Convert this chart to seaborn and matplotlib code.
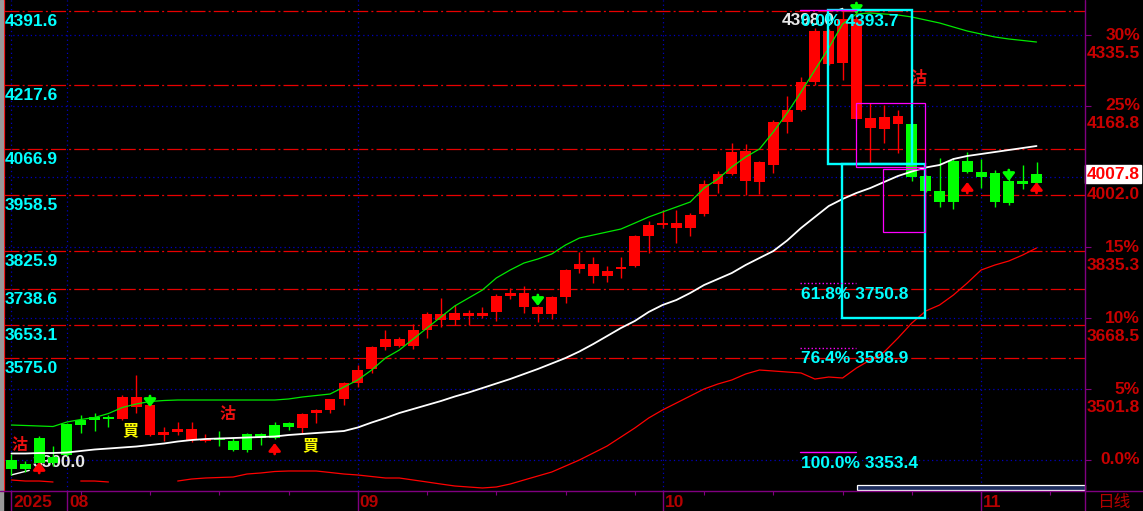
import numpy as np
import pandas as pd
import seaborn as sns
import matplotlib.pyplot as plt
from matplotlib.patches import Rectangle
from matplotlib.lines import Line2D

# 日线 K 线, 2025-07-28 .. 2025-11-07
opens = [3335.1, 3325.6, 3386.8, 3342.1, 3419.8, 3429.2, 3436.3, 3436.3, 3431.6, 3459.8,
         3393.9, 3393.9, 3401.0, 3382.1, 3379.8, 3384.5, 3379.8, 3396.3, 3396.3, 3417.4,
         3422.2, 3410.4, 3445.7, 3452.8, 3478.7, 3516.3, 3549.3, 3601.1, 3603.4, 3603.4,
         3641.1, 3664.6, 3664.6, 3674.0, 3674.0, 3683.5, 3721.1, 3695.2, 3678.7, 3678.7,
         3718.8, 3784.7, 3768.2, 3768.2, 3784.7, 3791.7, 3862.4, 3888.2, 3881.2, 3881.2,
         3914.1, 3984.8, 4008.3, 3991.8, 3989.5, 4029.5, 4130.7, 4159.0, 4224.9, 4267.2,
         4269.6, 4137.8, 4116.6, 4114.2, 4126.0, 4126.0, 4003.6, 3968.3, 4038.9, 4038.9,
         4013.0, 4010.7, 3991.8, 3991.8, 4008.3]
highs = [3349.2, 3332.7, 3391.6, 3368.0, 3422.2, 3441.0, 3445.7, 3441.0, 3488.1, 3535.1,
         3466.0, 3412.7, 3424.5, 3424.5, 3396.3, 3403.3, 3386.8, 3398.6, 3398.6, 3424.5,
         3424.5, 3445.7, 3455.1, 3479.0, 3518.7, 3558.7, 3603.4, 3641.1, 3624.6, 3655.2,
         3683.5, 3716.4, 3699.9, 3688.2, 3695.2, 3725.8, 3739.9, 3744.7, 3697.0, 3721.1,
         3784.7, 3824.7, 3812.9, 3791.7, 3812.9, 3864.7, 3897.7, 3923.6, 3923.6, 3916.5,
         3994.2, 4015.4, 4081.3, 4078.9, 4038.9, 4135.4, 4191.9, 4236.6, 4352.0, 4350.0,
         4398.0, 4393.7, 4175.4, 4170.7, 4159.0, 4127.0, 4005.0, 4046.0, 4046.0, 4060.1,
         4043.6, 4017.7, 4013.0, 4029.5, 4036.5]
lows = [3300.0, 3306.8, 3320.9, 3320.9, 3344.5, 3398.6, 3403.3, 3412.7, 3430.0, 3445.7,
        3392.0, 3379.8, 3393.9, 3377.4, 3377.4, 3368.0, 3356.2, 3353.9, 3370.4, 3384.5,
        3405.7, 3398.6, 3422.2, 3445.7, 3464.5, 3506.9, 3539.9, 3594.0, 3601.1, 3596.4,
        3622.2, 3648.1, 3652.8, 3652.8, 3669.3, 3662.3, 3714.1, 3681.1, 3659.9, 3667.0,
        3704.6, 3775.2, 3751.7, 3754.1, 3763.5, 3789.4, 3822.3, 3881.2, 3845.9, 3862.4,
        3909.4, 3963.6, 4006.0, 3958.9, 3961.2, 4010.7, 4104.8, 4156.6, 4217.8, 4265.0,
        4229.6, 4135.0, 4034.2, 4081.3, 4057.7, 3991.1, 3966.0, 3930.6, 3925.9, 4010.0,
        3975.3, 3930.6, 3935.3, 3973.0, 3987.0]
closes = [3313.9, 3313.9, 3328.0, 3328.0, 3346.8, 3417.4, 3429.2, 3431.6, 3483.4, 3483.4,
          3464.5, 3401.0, 3408.0, 3408.0, 3384.5, 3382.1, 3358.6, 3358.6, 3386.8, 3386.8,
          3412.7, 3443.3, 3452.8, 3478.7, 3516.3, 3546.9, 3601.1, 3619.9, 3619.9, 3641.1,
          3678.7, 3678.7, 3681.1, 3681.1, 3681.1, 3721.1, 3728.2, 3728.2, 3695.2, 3718.8,
          3782.3, 3796.4, 3796.4, 3780.0, 3789.4, 3862.4, 3888.2, 3893.0, 3893.0, 3911.8,
          3984.8, 4008.3, 4060.1, 4062.4, 4036.5, 4130.7, 4159.0, 4224.9, 4344.9, 4344.9,
          4373.2, 4373.2, 4140.1, 4142.5, 4144.8, 4000.5, 3968.3, 3942.4, 3942.4, 4013.0,
          4001.2, 3942.4, 3940.0, 3984.8, 3987.8]

# indicator lines
ma_fast = [3417.4, 3416.3, 3415.1, 3413.9, 3424.5, 3430.4, 3435.1, 3444.5, 3458.6, 3466.9,
           3472.8, 3475.1, 3476.3, 3476.3, 3476.3, 3476.3, 3476.3, 3476.3, 3476.3, 3476.3,
           3478.7, 3483.4, 3486.9, 3490.4, 3506.9, 3523.4, 3546.9, 3575.2, 3594.0, 3619.9,
           3645.8, 3671.7, 3697.6, 3716.4, 3735.2, 3763.5, 3782.3, 3798.8, 3808.2, 3820.0,
           3841.2, 3857.6, 3864.7, 3871.8, 3878.8, 3892.8, 3907.1, 3918.9, 3930.6, 3942.4,
           3975.3, 3996.5, 4024.8, 4048.3, 4067.2, 4107.2, 4151.9, 4201.3, 4253.1, 4304.9,
           4361.4, 4384.9, 4387.3, 4384.9, 4382.6, 4377.9, 4370.8, 4363.8, 4354.3, 4344.9,
           4337.8, 4330.8, 4326.1, 4322.6, 4319.0]
ma_slow = [3350.4, 3350.4, 3351.5, 3351.5, 3352.7, 3356.3, 3359.8, 3362.1, 3364.5, 3366.8,
           3370.4, 3373.9, 3378.6, 3382.1, 3384.5, 3385.7, 3386.8, 3388.0, 3389.2, 3390.4,
           3393.9, 3396.3, 3398.6, 3401.0, 3403.3, 3411.6, 3423.3, 3433.9, 3445.7, 3455.1,
           3464.5, 3473.9, 3484.5, 3493.9, 3504.5, 3515.1, 3525.7, 3537.5, 3549.3, 3562.2,
           3575.2, 3590.5, 3608.1, 3626.9, 3645.8, 3662.3, 3683.5, 3699.9, 3711.7, 3728.2,
           3747.0, 3761.1, 3775.2, 3794.1, 3810.6, 3827.0, 3851.8, 3881.2, 3907.1, 3932.9,
           3949.5, 3963.6, 3975.3, 3989.5, 4003.6, 4014.2, 4023.6, 4029.5, 4043.6, 4050.7,
           4055.4, 4060.1, 4064.8, 4069.5, 4074.2]
band_low = [3288.0, 3285.6, 3285.6, 3283.3, np.nan, 3285.6, 3285.6, 3283.3, np.nan, np.nan,
            np.nan, np.nan, 3285.6, 3290.3, 3292.7, 3293.9, 3295.0, 3302.1, 3304.5, 3308.0,
            3309.2, 3309.2, 3309.2, 3305.7, 3302.1, 3299.8, 3296.2, 3292.7, 3292.7, 3288.0,
            3283.3, 3278.5, 3273.9, 3271.5, 3269.2, 3271.5, 3278.5, 3288.0, 3297.4, 3306.8,
            3320.9, 3335.1, 3351.5, 3368.0, 3389.2, 3410.4, 3433.9, 3452.8, 3469.2, 3485.7,
            3502.2, 3514.0, 3523.4, 3537.5, 3546.9, 3544.6, 3542.2, 3539.9, 3525.7, 3530.4,
            3528.1, 3551.6, 3570.5, 3589.3, 3622.2, 3657.6, 3685.8, 3699.9, 3723.4, 3751.7,
            3782.3, 3794.1, 3803.5, 3817.6, 3834.1]

# horizontal levels
level_prices = [4391.6, 4217.6, 4066.9, 3958.5, 3825.9, 3738.6, 3653.1, 3575.0]
pct_labels = ['30%', '25%', '20%', '15%', '10%', '5%', '0.0%']
pct_prices = [4335.5, 4168.8, 4002.0, 3835.3, 3668.5, 3501.8, 3335.1]
fib_labels = ['0.0%', '61.8%', '76.4%', '100.0%']
fib_prices = [4393.7, 3750.8, 3598.9, 3353.4]
fib_styles = ['-', ':', ':', '-']
last_price = 4007.8

# calendar
month_idx = [0, 4, 25, 47, 70]
month_labels = ['2025', '08', '09', '10', '11']

# signals
buy_idx, buy_price = [8.6, 21.6], [3405.7, 3370.4]
sell_idx, sell_price = [0.6, 15.6, 65.5], [3370.4, 3442.2, 4234.3]
up_idx, up_tip = [2, 19, 69, 74], [3330.4, 3375.1, 3989.5, 3989.5]
down_idx, down_tip = [10, 38, 61, 72], [3459.8, 3697.6, 4384.9, 3991.8]

# projection boxes (x0, x1, top, bottom)
cyan_boxes = [(58.95, 65.0, 4393.7, 4031.1), (59.95, 65.95, 4031.1, 3668.5)]
pink_boxes = [(60.95, 65.95, 4175.4, 4024.8), (62.95, 65.95, 4020.1, 3871.8)]

RED, GREEN, CYAN = '#ff0000', '#00ff00', '#00ffff'
DRED, PURPLE, BLUE = '#c80000', '#800080', '#0000c0'

sns.set_theme(style='dark', rc={'axes.facecolor': 'black', 'figure.facecolor': 'black',
                                'axes.grid': False})
plt.rcParams['font.family'] = ['Liberation Sans', 'Noto Sans CJK TC', 'DejaVu Sans']

W, H = 1143, 511
fig = plt.figure(figsize=(W / 100, H / 100), dpi=100)
fig.patch.set_facecolor('black')
L, R, B = 4, 1085, 491
ax = fig.add_axes([L / W, (H - B) / H, (R - L) / W, B / H])
ax.set_facecolor('black')
ax.set_xlim(-0.54, 77.5)
ax.set_ylim(3262.1, 4417.9)

for s in ax.spines.values():
    s.set_visible(False)
ax.spines['left'].set_visible(True)
ax.spines['left'].set_color(RED)
ax.spines['left'].set_linewidth(0.9)

ax.set_yticks(pct_prices)
ax.set_xticks(np.arange(0, 78, 5))
ax.tick_params(axis='y', left=False, right=True, labelleft=False, labelright=False,
               color=PURPLE, length=4, width=0.8, direction='out')
ax.tick_params(axis='x', bottom=True, labelbottom=False, color=PURPLE, length=3,
               width=0.8, direction='out')

# frame pieces outside the plot
fig.add_artist(Rectangle((0, 0), 3 / W, 1, transform=fig.transFigure, color='#9a9a9a'))
fig.add_artist(Line2D([0, 1], [(H - B) / H] * 2, transform=fig.transFigure, color=PURPLE, lw=1))
fig.add_artist(Line2D([R / W] * 2, [0, 1], transform=fig.transFigure, color=PURPLE, lw=1))
ax.vlines(month_idx, -20 / B, 0, transform=ax.get_xaxis_transform(), colors=PURPLE,
          lw=1, clip_on=False)

# grid
for p in level_prices:
    ax.axhline(p, color='#e80000', lw=0.9, ls=(0, (12, 2.5, 1.6, 2.5)), zorder=1)
    ax.annotate(f'{p:.1f}', xy=(0, p), xycoords=ax.get_yaxis_transform(),
                xytext=(1, -10.5), textcoords='offset pixels', ha='left', va='center',
                color=CYAN, fontsize=12.5, fontweight='bold', zorder=8)
for p in pct_prices:
    ax.axhline(p, color=BLUE, lw=0.9, ls=(0, (1, 2.5)), zorder=1)
for i in month_idx:
    ax.axvline(i, color=BLUE, lw=0.9, ls=(0, (1, 2.5)), zorder=1)

# right-hand scale (the 20% mark sits under the last-price tag)
for lbl, p in zip(pct_labels, pct_prices):
    if abs(p - last_price) < 15:
        continue
    ax.annotate(lbl, xy=(1, p), xycoords=ax.get_yaxis_transform(), xytext=(55, 0),
                textcoords='offset pixels', ha='right', va='center', color=DRED,
                fontsize=12.5, fontweight='bold', annotation_clip=False)
for p in pct_prices[:-1]:
    ax.annotate(f'{p:.1f}', xy=(1, p), xycoords=ax.get_yaxis_transform(), xytext=(55, -18),
                textcoords='offset pixels', ha='right', va='center', color=DRED,
                fontsize=12.5, fontweight='bold', annotation_clip=False)
ax.annotate(f'{last_price:.1f}', xy=(1, last_price), xycoords=ax.get_yaxis_transform(),
            xytext=(28, 0), textcoords='offset pixels', ha='center', va='center',
            color=RED, fontsize=12.5, fontweight='bold', annotation_clip=False, zorder=10,
            bbox=dict(boxstyle='square,pad=0.08', fc='white', ec='white'))

# month labels
for i, lbl in zip(month_idx, month_labels):
    ax.annotate(lbl, xy=(i, 0), xycoords=ax.get_xaxis_transform(), xytext=(2, -11),
                textcoords='offset pixels', ha='left', va='center', color='#b40000',
                fontsize=12.5, fontweight='bold', annotation_clip=False)
fig.text(1097 / W, 9 / H, '日线', color='#b40000', fontsize=12,
         family=['Noto Sans CJK SC'], ha='left', va='center')

# low / high markers (under the candles)
ax.annotate(f'{min(lows):.1f}', xy=(0, min(lows)), xytext=(21, 12),
            textcoords='offset pixels', ha='left', va='center', color='#e8e8e8',
            fontsize=12.5, fontweight='bold', zorder=2,
            arrowprops=dict(arrowstyle='-', color='white', lw=1, shrinkA=0, shrinkB=0))
ax.annotate(f'{max(highs):.1f}', xy=(60, max(highs)), xytext=(-8, -12.5),
            textcoords='offset pixels', ha='right', va='center', color='#e8e8e8',
            fontsize=12.5, fontweight='bold', zorder=6,
            arrowprops=dict(arrowstyle='-', color='white', lw=1, shrinkA=0, shrinkB=0))

# candles
idx = np.arange(len(opens))
o, h, l, c = map(np.array, (opens, highs, lows, closes))
cols = np.where(c >= o, RED, GREEN)
ax.vlines(idx, l, h, colors=cols, lw=1.0, zorder=3)
ax.bar(idx, np.maximum(np.abs(c - o), 2.5), bottom=np.minimum(o, c), width=0.78,
       color=cols, linewidth=0, zorder=3.5)

# indicator lines
lines = pd.DataFrame({'i': idx, 'fast': ma_fast, 'slow': ma_slow, 'band': band_low})
lines['seg'] = lines['band'].isna().cumsum()
sns.lineplot(data=lines, x='i', y='fast', color='#00e800', lw=0.9, ax=ax, zorder=4)
sns.lineplot(data=lines, x='i', y='slow', color='white', lw=1.3, ax=ax, zorder=4)
sns.lineplot(data=lines.dropna(), x='i', y='band', units='seg', estimator=None,
             color=RED, lw=0.9, ax=ax, zorder=4)
ax.set_xlabel('')
ax.set_ylabel('')

# buy / sell marks
for i, p in zip(buy_idx, buy_price):
    ax.text(i, p, '買', color='#ffff00', fontsize=11.5, fontweight='bold', ha='center',
            va='center', family=['Noto Sans CJK TC'], zorder=5)
for i, p in zip(sell_idx, sell_price):
    ax.text(i, p, '沽', color='#ee1010', fontsize=11.5, fontweight='bold', ha='center',
            va='center', family=['Noto Sans CJK TC'], zorder=5)
for i, p in zip(up_idx, up_tip):
    ax.annotate('', xy=(i, p), xytext=(0, -11), textcoords='offset pixels', zorder=5,
                arrowprops=dict(arrowstyle='-|>,head_width=0.35,head_length=0.45',
                                color=RED, lw=2, shrinkA=0, shrinkB=0, mutation_scale=10))
for i, p in zip(down_idx, down_tip):
    ax.annotate('', xy=(i, p), xytext=(0, 11), textcoords='offset pixels', zorder=5,
                arrowprops=dict(arrowstyle='-|>,head_width=0.35,head_length=0.45',
                                color=GREEN, lw=2, shrinkA=0, shrinkB=0, mutation_scale=10))

# golden-section projection
for (x0, x1, top, bot) in cyan_boxes:
    ax.add_patch(Rectangle((x0, bot), x1 - x0, top - bot, fill=False, ec=CYAN, lw=1.7, zorder=6))
for (x0, x1, top, bot) in pink_boxes:
    ax.add_patch(Rectangle((x0, bot), x1 - x0, top - bot, fill=False, ec='#ff00ff', lw=0.9, zorder=6))
for lbl, p, st in zip(fib_labels, fib_prices, fib_styles):
    ax.plot([56.9, 60.95], [p, p], color='#ff00ff', lw=1, ls=st, zorder=6)
    ax.annotate(f'{lbl} {p:.1f}', xy=(57.0, p), xytext=(0, -11), textcoords='offset pixels',
                ha='left', va='center', color=CYAN, fontsize=12.5, fontweight='bold', zorder=7)

# scroll bar
ax.add_patch(Rectangle((0.789, 0.003), 0.211, 0.01, transform=ax.transAxes, fc='#1c2c5c',
                       ec='white', lw=0.9, zorder=7, clip_on=False))

fig.savefig('out.png', dpi=100, facecolor='black')
